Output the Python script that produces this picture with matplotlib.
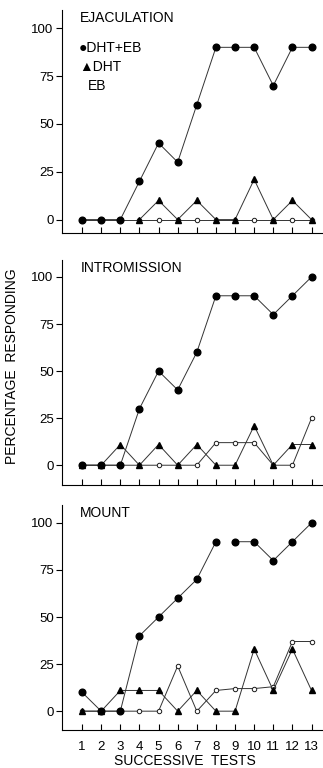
import numpy as np
import matplotlib
matplotlib.use("Agg")
import matplotlib.pyplot as plt

plt.rcParams['font.family'] = ['Liberation Sans', 'DejaVu Sans']

tests = np.arange(1, 14)

# ejaculation
ejac_dht_eb = [0, 0, 0, 20, 40, 30, 60, 90, 90, 90, 70, 90, 90]
ejac_dht_x = np.arange(4, 14)
ejac_dht = [0, 10, 0, 10, 0, 0, 21, 0, 10, 0]
ejac_eb = [0, 0, 0, 0, 0, 0, 0, 0, 0, 0, 0, 0, 0]

# intromission
intro_dht_eb = [0, 0, 0, 30, 50, 40, 60, 90, 90, 90, 80, 90, 100]
intro_dht = [0, 0, 11, 0, 11, 0, 11, 0, 0, 21, 0, 11, 11]
intro_eb = [0, 0, 0, 0, 0, 0, 0, 12, 12, 12, 0, 0, 25]

# mount
mount_dht_eb = [10, 0, 0, 40, 50, 60, 70, 90, 90, 90, 80, 90, 100]
mount_dht = [0, 0, 11, 11, 11, 0, 11, 0, 0, 33, 11, 33, 11]
mount_eb = [0, 0, 0, 0, 0, 24, 0, 11, 12, 12, 13, 37, 37]

fig = plt.figure(figsize=(3.23, 7.68), dpi=100)

W, H = 323.0, 768.0
# (top px, bottom px, ymin, ymax)
boxes = [(10, 233, -7, 109.5), (260, 485, -10.5, 109), (505, 730, -10, 109.5)]
titles = ["EJACULATION", "INTROMISSION", "MOUNT"]
panels = [
    (tests, ejac_dht_eb, ejac_dht_x, ejac_dht, tests, ejac_eb, None),
    (tests, intro_dht_eb, tests, intro_dht, tests, intro_eb, None),
    (tests, mount_dht_eb, tests, mount_dht, tests, mount_eb, 8),
]

lc = '0.2'
axes = []
for i, (box, title, p) in enumerate(zip(boxes, titles, panels)):
    top, bot, y0, y1 = box
    ax = fig.add_axes([62 / W, 1 - bot / H, (W - 62) / W, (bot - top) / H])
    axes.append(ax)
    x1, y_de, x2, y_d, x3, y_e, gap = p

    # EB, open circles
    ax.plot(x3, y_e, '-', color=lc, lw=0.7, zorder=1)
    ax.plot(x3, y_e, 'o', ms=3.2, mfc='white', mec='0.1', mew=0.7, zorder=2)
    # DHT, triangles
    ax.plot(x2, y_d, '-', color=lc, lw=0.7, zorder=3)
    ax.plot(x2, y_d, '^', ms=5, color='black', zorder=4)
    # DHT+EB, filled circles
    if gap is None:
        ax.plot(x1, y_de, '-', color=lc, lw=0.7, zorder=5)
    else:
        ax.plot(x1[:gap], y_de[:gap], '-', color=lc, lw=0.7, zorder=5)
        ax.plot(x1[gap:], y_de[gap:], '-', color=lc, lw=0.7, zorder=5)
    ax.plot(x1, y_de, 'o', ms=4.8, color='black', zorder=6)

    ax.set_xlim(-0.05, 13.6)
    ax.set_ylim(y0, y1)
    ax.set_yticks([0, 25, 50, 75, 100])
    ax.set_xticks(tests)
    ax.spines['top'].set_visible(False)
    ax.spines['right'].set_visible(False)
    ax.spines['left'].set_linewidth(0.8)
    ax.spines['bottom'].set_linewidth(0.8)
    ax.tick_params(axis='y', direction='out', length=4, width=0.8, labelsize=9.5, pad=2)
    ax.tick_params(axis='x', direction='in', length=4, width=0.8, labelsize=9.5, pad=8)
    if i < 2:
        ax.set_xticklabels([])
    ax.text(0.07, 0.995, title, transform=ax.transAxes, fontsize=10, va='top', ha='left')

# legend in top panel
axes[0].text(0.065, 0.83, "●DHT+EB", transform=axes[0].transAxes, fontsize=10, va='center')
axes[0].text(0.065, 0.745, "▲DHT", transform=axes[0].transAxes, fontsize=10, va='center')
axes[0].text(0.1, 0.66, "EB", transform=axes[0].transAxes, fontsize=10, va='center')

fig.text(0.037, 1 - 366 / H, "PERCENTAGE  RESPONDING", rotation=90, fontsize=10,
         ha='center', va='center')
fig.text(185 / W, 1 - 761 / H, "SUCCESSIVE  TESTS", fontsize=10, ha='center', va='center')

fig.savefig("out.png", dpi=100)
